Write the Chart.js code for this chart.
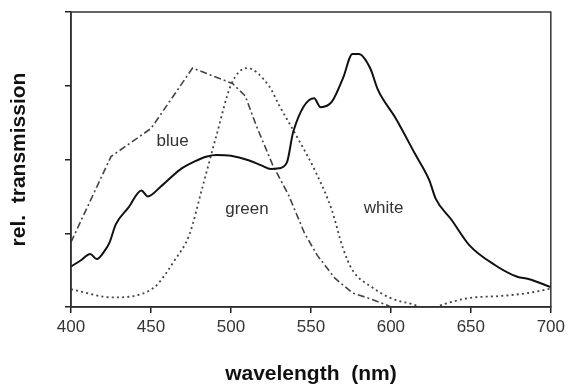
<!DOCTYPE html>
<html><head><meta charset="utf-8">
<script src="https://cdn.jsdelivr.net/npm/chart.js@4/dist/chart.umd.min.js"></script>
<style>html,body{margin:0;padding:0;background:#fff}</style>
</head><body>
<canvas id="c" width="569" height="390"></canvas>
<script>
// ---- data ----
const xTickValues = [400, 450, 500, 550, 600, 650, 700];

const whiteNm  = [400, 406, 412, 416, 421, 424, 428, 436, 444, 448, 456, 468, 477, 485, 491, 500, 511, 519, 525, 530, 535, 539, 552, 556, 563, 570, 576, 580, 587, 592, 603, 615, 624, 628, 638, 649, 665, 679, 686, 700];
const whiteVal = [0.55, 0.63, 0.72, 0.65, 0.76, 0.87, 1.12, 1.35, 1.58, 1.50, 1.63, 1.86, 1.97, 2.04, 2.06, 2.05, 1.99, 1.92, 1.87, 1.88, 1.96, 2.38, 2.83, 2.71, 2.78, 3.10, 3.43, 3.43, 3.24, 2.94, 2.56, 2.08, 1.72, 1.47, 1.18, 0.84, 0.57, 0.41, 0.38, 0.27];

const blueNm  = [400, 425, 450, 476, 501, 509, 516, 526, 536, 546, 554, 565, 576, 586, 597, 600];
const blueVal = [0.88, 2.04, 2.42, 3.24, 3.03, 2.86, 2.45, 1.93, 1.52, 1.00, 0.70, 0.39, 0.19, 0.12, 0.03, 0.00];

const greenNm  = [400, 426, 451, 465, 474, 482, 491, 500, 510, 524, 530, 542, 553, 563, 570, 576, 588, 600, 613, 620, 628, 632, 648, 669, 686, 700];
const greenVal = [0.24, 0.13, 0.25, 0.64, 0.98, 1.61, 2.33, 3.01, 3.24, 2.99, 2.74, 2.28, 1.83, 1.32, 0.80, 0.50, 0.27, 0.12, 0.04, 0.00, 0.00, 0.03, 0.12, 0.15, 0.19, 0.25];

const curveLabels = ['blue', 'green', 'white'];
const labelNm     = [463.5, 510, 595.5];
const labelVal    = [2.24, 1.33, 1.34];

// ---- build ----
const pts = (xs, ys) => xs.map((x, i) => ({x: x, y: ys[i]}));
const FONT = '"Liberation Sans", Arial, Helvetica, sans-serif';

const framePlugin = {
  id: 'frame',
  afterDatasetsDraw(chart) {
    const {ctx, chartArea: a, scales} = chart;
    ctx.save();
    ctx.strokeStyle = '#333';
    ctx.lineWidth = 1.5;
    ctx.strokeRect(a.left, a.top, a.right - a.left, a.bottom - a.top);
    ctx.fillStyle = '#333';
    ctx.font = '17px ' + FONT;
    ctx.textAlign = 'center';
    ctx.textBaseline = 'middle';
    curveLabels.forEach((t, i) => {
      ctx.fillText(t, scales.x.getPixelForValue(labelNm[i]), scales.y.getPixelForValue(labelVal[i]));
    });
    ctx.restore();
  }
};

new Chart(document.getElementById('c'), {
  type: 'line',
  data: {
    datasets: [
      { label: 'white', data: pts(whiteNm, whiteVal), borderColor: '#111', borderWidth: 2,
        cubicInterpolationMode: 'monotone', pointRadius: 0, fill: false },
      { label: 'blue', data: pts(blueNm, blueVal), borderColor: '#444', borderWidth: 1.6,
        borderDash: [7, 3, 2, 3], tension: 0, pointRadius: 0, fill: false },
      { label: 'green', data: pts(greenNm, greenVal), borderColor: '#444', borderWidth: 1.8,
        borderDash: [2, 3.2], cubicInterpolationMode: 'monotone', pointRadius: 0, fill: false }
    ]
  },
  options: {
    responsive: false,
    animation: false,
    layout: { padding: { top: 12, right: 16, left: 0, bottom: 0 } },
    plugins: { legend: { display: false }, tooltip: { enabled: false } },
    scales: {
      x: {
        type: 'linear', min: 400, max: 700,
        afterBuildTicks: s => { s.ticks = xTickValues.map(v => ({value: v})); },
        afterFit: s => { s.height = 83; },
        ticks: { color: '#333', font: { family: FONT, size: 17 }, padding: 4, maxRotation: 0 },
        grid: { drawOnChartArea: false, drawTicks: true, tickLength: 6, color: '#222', lineWidth: 1.5 },
        border: { display: true, color: '#222', width: 1.5 },
        title: { display: true, text: 'wavelength  (nm)', color: '#111',
          font: { family: FONT, size: 21, weight: 'bold' }, padding: { top: 0, bottom: 3 } }
      },
      y: {
        type: 'linear', min: 0, max: 4,
        ticks: { stepSize: 1, display: false },
        afterFit: s => { s.width = 71; },
        grid: { drawOnChartArea: false, drawTicks: true, tickLength: 6, color: '#222', lineWidth: 1.5 },
        border: { display: true, color: '#222', width: 1.5 },
        title: { display: true, text: 'rel.  transmission', color: '#111',
          font: { family: FONT, size: 21, weight: 'bold' }, padding: { top: 7, bottom: 0 } }
      }
    }
  },
  plugins: [framePlugin]
});
</script>
</body></html>
